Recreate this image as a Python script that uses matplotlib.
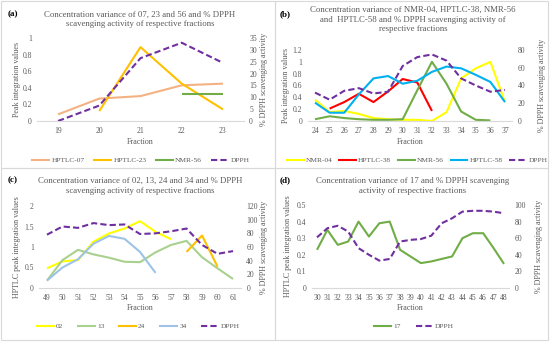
import matplotlib
matplotlib.use("Agg")
import matplotlib.pyplot as plt
from matplotlib.lines import Line2D
import numpy as np

plt.rcParams['font.family'] = ['Liberation Serif', 'DejaVu Serif']

W, H = 550, 342
GRAY = '#595959'
LGRAY = '#D9D9D9'
PURPLE = '#7030A0'

# ---------------- data ----------------
# (a)
a_x = [19, 20, 21, 22, 23]
a_hptlc07 = [0.08, 0.27, 0.30, 0.43, 0.45]
a_hptlc23 = [None, 0.12, 0.89, 0.45, 0.14]
a_nmr56 = [None, None, None, 0.32, 0.32]
a_dpph = [0, 6.5, 26.5, 33, 24.5]

# (b)
b_x = list(range(24, 38))
b_nmr04 = [0.36, 0.15, 0.17, 0.12, 0.05, 0.03, 0.02, 0.02, 0.0, 0.15, 0.72, 0.89, 1.0, 0.32]
b_hptlc38 = [None, 0.21, 0.32, 0.46, 0.32, 0.50, 0.71, 0.65, 0.17, None, None, None, None, None]
b_nmr56 = [0.03, 0.08, 0.05, 0.03, 0.02, 0.02, 0.03, 0.52, 1.0, 0.63, 0.16, 0.02, 0.01, None]
b_hptlc58 = [0.31, 0.14, 0.14, 0.45, 0.72, 0.76, 0.63, 0.68, 0.83, 0.92, 0.89, 0.78, 0.66, 0.32]
b_dpph = [32, 24, 34, 37, 31, 33, 62, 72, 75, 68, 48, 40, 33, 35]

# (c)
c_x = list(range(49, 62))
c_02 = [0.48, 0.65, 0.68, 1.13, 1.33, 1.45, 1.63, 1.37, 1.19, None, None, None, None]
c_13 = [0.18, 0.68, 0.93, 0.82, 0.74, 0.64, 0.63, 0.87, 1.05, 1.15, 0.75, 0.48, 0.22]
c_24 = [None, None, None, None, None, None, None, None, None, 0.88, 1.28, 0.52, None]
c_34 = [0.18, 0.50, 0.70, 1.08, 1.27, 1.20, 0.88, 0.37, None, None, None, None, None]
c_dpph = [78, 90, 88, 95, 92, 93, 79, 80, 83, 87, 63, 50, 54]

# (d)
d_x = list(range(30, 49))
d_17 = [0.23, 0.35, 0.26, 0.28, 0.40, 0.31, 0.39, 0.40, 0.23, 0.19, 0.15, 0.16, 0.175, 0.19, 0.30, 0.33, 0.33, 0.24, 0.145]
d_dpph = [61, 72, 75, 68, 48, 40, 33, 35, 56, 58, 59, 63, 78, 84, 92, 93, 93, 92, 90]


def arr(v):
    return np.array([np.nan if e is None else e for e in v], dtype=float)


fig = plt.figure(figsize=(W / 100, H / 100), dpi=100)


def px_axes(x0, x1, y0, y1):
    return fig.add_axes([x0 / W, 1 - y1 / H, (x1 - x0) / W, (y1 - y0) / H])


def panel(box, xs, series, dpph, ylim, yticks, rlim, rticks, ylabel,
          title, tag, tagpos, titley, title_cx, leg_cx, leg_y, xlab_y, ylab_x, rlab_x, colsp):
    x0, x1, y0, y1 = box
    ax = px_axes(x0, x1, y0, y1)
    idx = np.arange(len(xs))
    for vals, color, lab in series:
        ax.plot(idx, arr(vals), color=color, lw=1.5, solid_capstyle='butt')
    ax2 = ax.twinx()
    ax2.plot(idx, arr(dpph), color=PURPLE, lw=1.5, ls=(0, (3, 1.5)))
    ax.set_xlim(-0.5, len(xs) - 0.5)
    ax.set_ylim(*ylim)
    ax2.set_ylim(*rlim)
    ax.set_xticks(idx)
    ax.set_xticklabels([str(v) for v in xs])
    ax.set_yticks(yticks)
    ax.set_yticklabels(['%g' % v for v in yticks])
    ax2.set_yticks(rticks)
    ax2.set_yticklabels([str(v) for v in rticks])
    for a in (ax, ax2):
        for s in a.spines.values():
            s.set_visible(False)
        a.tick_params(length=0, labelsize=5.5, colors=GRAY, pad=4)
        a.patch.set_visible(False)
    ax.spines['bottom'].set_visible(True)
    ax.spines['bottom'].set_color(LGRAY)
    ax.spines['bottom'].set_linewidth(0.8)
    fig.text(ylab_x / W, 1 - (y0 + y1) / 2 / H, ylabel, rotation=90, ha='center',
             va='center', fontsize=5.8, color=GRAY)
    fig.text(rlab_x / W, 1 - (y0 + y1) / 2 / H, '% DPPH scavenging activity', rotation=90,
             ha='center', va='center', fontsize=5.8, color=GRAY)
    fig.text((x0 + x1) / 2 / W, 1 - xlab_y / H, 'Fraction', ha='center', va='center',
             fontsize=5.8, color=GRAY)
    fig.text(title_cx / W, 1 - titley / H, title, ha='center', va='top',
             fontsize=6.3, color=GRAY, linespacing=1.25)
    fig.text(tagpos[0] / W, 1 - tagpos[1] / H, tag, ha='left', va='center',
             fontsize=6.5, color='black', fontweight='bold')
    handles = [Line2D([0], [0], color=c, lw=1.5) for _, c, _ in series]
    labels = [l for _, _, l in series]
    handles.append(Line2D([0], [0], color=PURPLE, lw=1.5, ls=(0, (3, 1.5))))
    labels.append('DPPH')
    fig.legend(handles, labels, loc='center', bbox_to_anchor=(leg_cx / W, 1 - leg_y / H),
               ncol=len(labels), frameon=False, fontsize=5.3, handlelength=2.3,
               columnspacing=colsp, handletextpad=0.3, labelcolor=GRAY)
    return ax


panel((37.4, 243.6, 38, 121), a_x,
      [(a_hptlc07, '#F4B183', 'HPTLC-07'), (a_hptlc23, '#FFC000', 'HPTLC-23'),
       (a_nmr56, '#70AD47', 'NMR-56')],
      a_dpph, (0, 1), [0, 0.2, 0.4, 0.6, 0.8, 1], (0, 35), list(range(0, 40, 5)),
      'Peak integration values',
      'Concentration variance of 07, 23 and 56 and % DPPH\nscavenging activity of respective fractions',
      '(a)', (8, 14), 11, 140, 141, 160, 142, 17, 264, 1.3)

panel((307.7, 512.3, 50, 121), b_x,
      [(b_nmr04, '#FFFF00', 'NMR-04'), (b_hptlc38, '#FF0000', 'HPTLC-38'),
       (b_nmr56, '#70AD47', 'NMR-56'), (b_hptlc58, '#00B0F0', 'HPTLC-58')],
      b_dpph, (0, 1.2), [0, 0.2, 0.4, 0.6, 0.8, 1, 1.2], (0, 80), [0, 20, 40, 60, 80],
      'Peak integration values',
      'Concentration variance of NMR-04, HPTLC-38, NMR-56\nand  HPTLC-58 and % DPPH scavenging activity of\nrespective fractions',
      '(b)', (280, 14), 6, 413, 417, 160, 142, 286, 542, 0.9)

panel((39.2, 240.8, 206, 288), c_x,
      [(c_02, '#FFFF00', '02'), (c_13, '#A9D18E', '13'),
       (c_24, '#FFC000', '24'), (c_34, '#9DC3E6', '34')],
      c_dpph, (0, 2), [0, 0.5, 1, 1.5, 2], (0, 120), list(range(0, 140, 20)),
      'HPTLC peak integration values',
      'Concentration variance of 02, 13, 24 and 34 and % DPPH\nscavenging activity of respective fractions',
      '(c)', (8, 180), 177, 140, 138, 326, 308, 17, 264, 2.0)

panel((311.8, 509.2, 205, 288), d_x,
      [(d_17, '#70AD47', '17')],
      d_dpph, (0, 0.5), [0, 0.1, 0.2, 0.3, 0.4, 0.5], (0, 100), list(range(0, 120, 20)),
      'HPTLC peak integration values',
      'Concentration variance of 17 and % DPPH scavenging\nactivity of respective fractions',
      '(d)', (280, 180), 177, 413, 414, 326, 308, 288, 539, 2.0)

# panel borders
for (xa, xb, ya, yb) in [(1, 275, 1, 168), (275, 548, 1, 168), (1, 275, 168, 340), (275, 548, 168, 340)]:
    fig.add_artist(plt.Rectangle((xa / W, 1 - yb / H), (xb - xa) / W, (yb - ya) / H,
                                 transform=fig.transFigure, fill=False, ec=LGRAY, lw=0.8))

fig.savefig('out.png', dpi=100)
